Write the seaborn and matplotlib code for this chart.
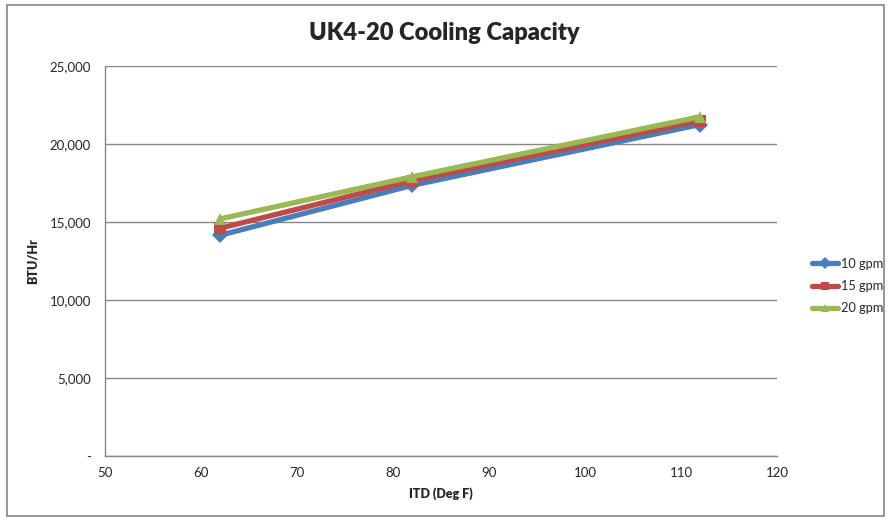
import matplotlib
matplotlib.use("Agg")
import matplotlib.pyplot as plt
import seaborn as sns
import pandas as pd
from matplotlib.patches import Rectangle
from matplotlib.ticker import FuncFormatter

itd = [62, 82, 112]
gpm10 = [14150, 17350, 21250]
gpm15 = [14600, 17650, 21500]
gpm20 = [15200, 17900, 21750]
series_names = ["10 gpm", "15 gpm", "20 gpm"]
colors = ["#4A7EBB", "#BE4B48", "#98B954"]
markers = ["D", "s", "^"]

rows = []
for name, vals in zip(series_names, [gpm10, gpm15, gpm20]):
    for x, y in zip(itd, vals):
        rows.append({"ITD": x, "BTU": y, "Series": name})
df = pd.DataFrame(rows)

sns.set_theme(style="white")
plt.rcParams["font.family"] = ["Lato", "DejaVu Sans"]

fig = plt.figure(figsize=(8.88, 5.20), dpi=100)
ax = fig.add_axes([105/888, 1-456/520, 672/888, 390/520])

sns.lineplot(data=df, x="ITD", y="BTU", hue="Series", style="Series",
             palette=colors, markers=markers, dashes=False, linewidth=3.8,
             markersize=8, markeredgewidth=0, ax=ax, legend=False)

ax.set_xlim(50, 120)
ax.set_ylim(0, 25000)
ax.set_xticks(range(50, 121, 10))
ax.set_yticks(range(0, 25001, 5000))
ax.yaxis.set_major_formatter(FuncFormatter(lambda v, p: "-" if v == 0 else f"{int(v):,}"))
ax.grid(axis="y", color="#868686", linewidth=1)
ax.grid(axis="x", visible=False)
for s in ["top", "right"]:
    ax.spines[s].set_visible(False)
for s in ["left", "bottom"]:
    ax.spines[s].set_color("#868686")
    ax.spines[s].set_linewidth(1)
ax.tick_params(axis="y", length=4, color="#868686", direction="out", labelsize=9.5, pad=6)
ax.tick_params(axis="x", length=0, labelsize=9.5, pad=8)
ax.set_axisbelow(True)
ax.set_xlabel("ITD (Deg F)", fontsize=9, fontweight="heavy", labelpad=6)
ax.set_ylabel("BTU/Hr", fontsize=9, fontweight="heavy", labelpad=8)
fig.text(0.5, 1-33/520, "UK4-20 Cooling Capacity", ha="center", va="center",
         fontsize=17, fontweight="heavy")

handles = [plt.Line2D([0], [0], color=c, marker=m, linewidth=3.8, markersize=6,
                      markeredgewidth=0) for c, m in zip(colors, markers)]
fig.legend(handles, series_names, loc="center left", bbox_to_anchor=(800/888, 1-286/520),
           frameon=False, fontsize=9.2, handlelength=2.1, handletextpad=0.2,
           labelspacing=0.8)

fig.add_artist(Rectangle((7/888, 4/520), 877/888, 511/520, transform=fig.transFigure,
                         fill=False, edgecolor="#868686", linewidth=1.2))

fig.savefig("out.png", dpi=100)
